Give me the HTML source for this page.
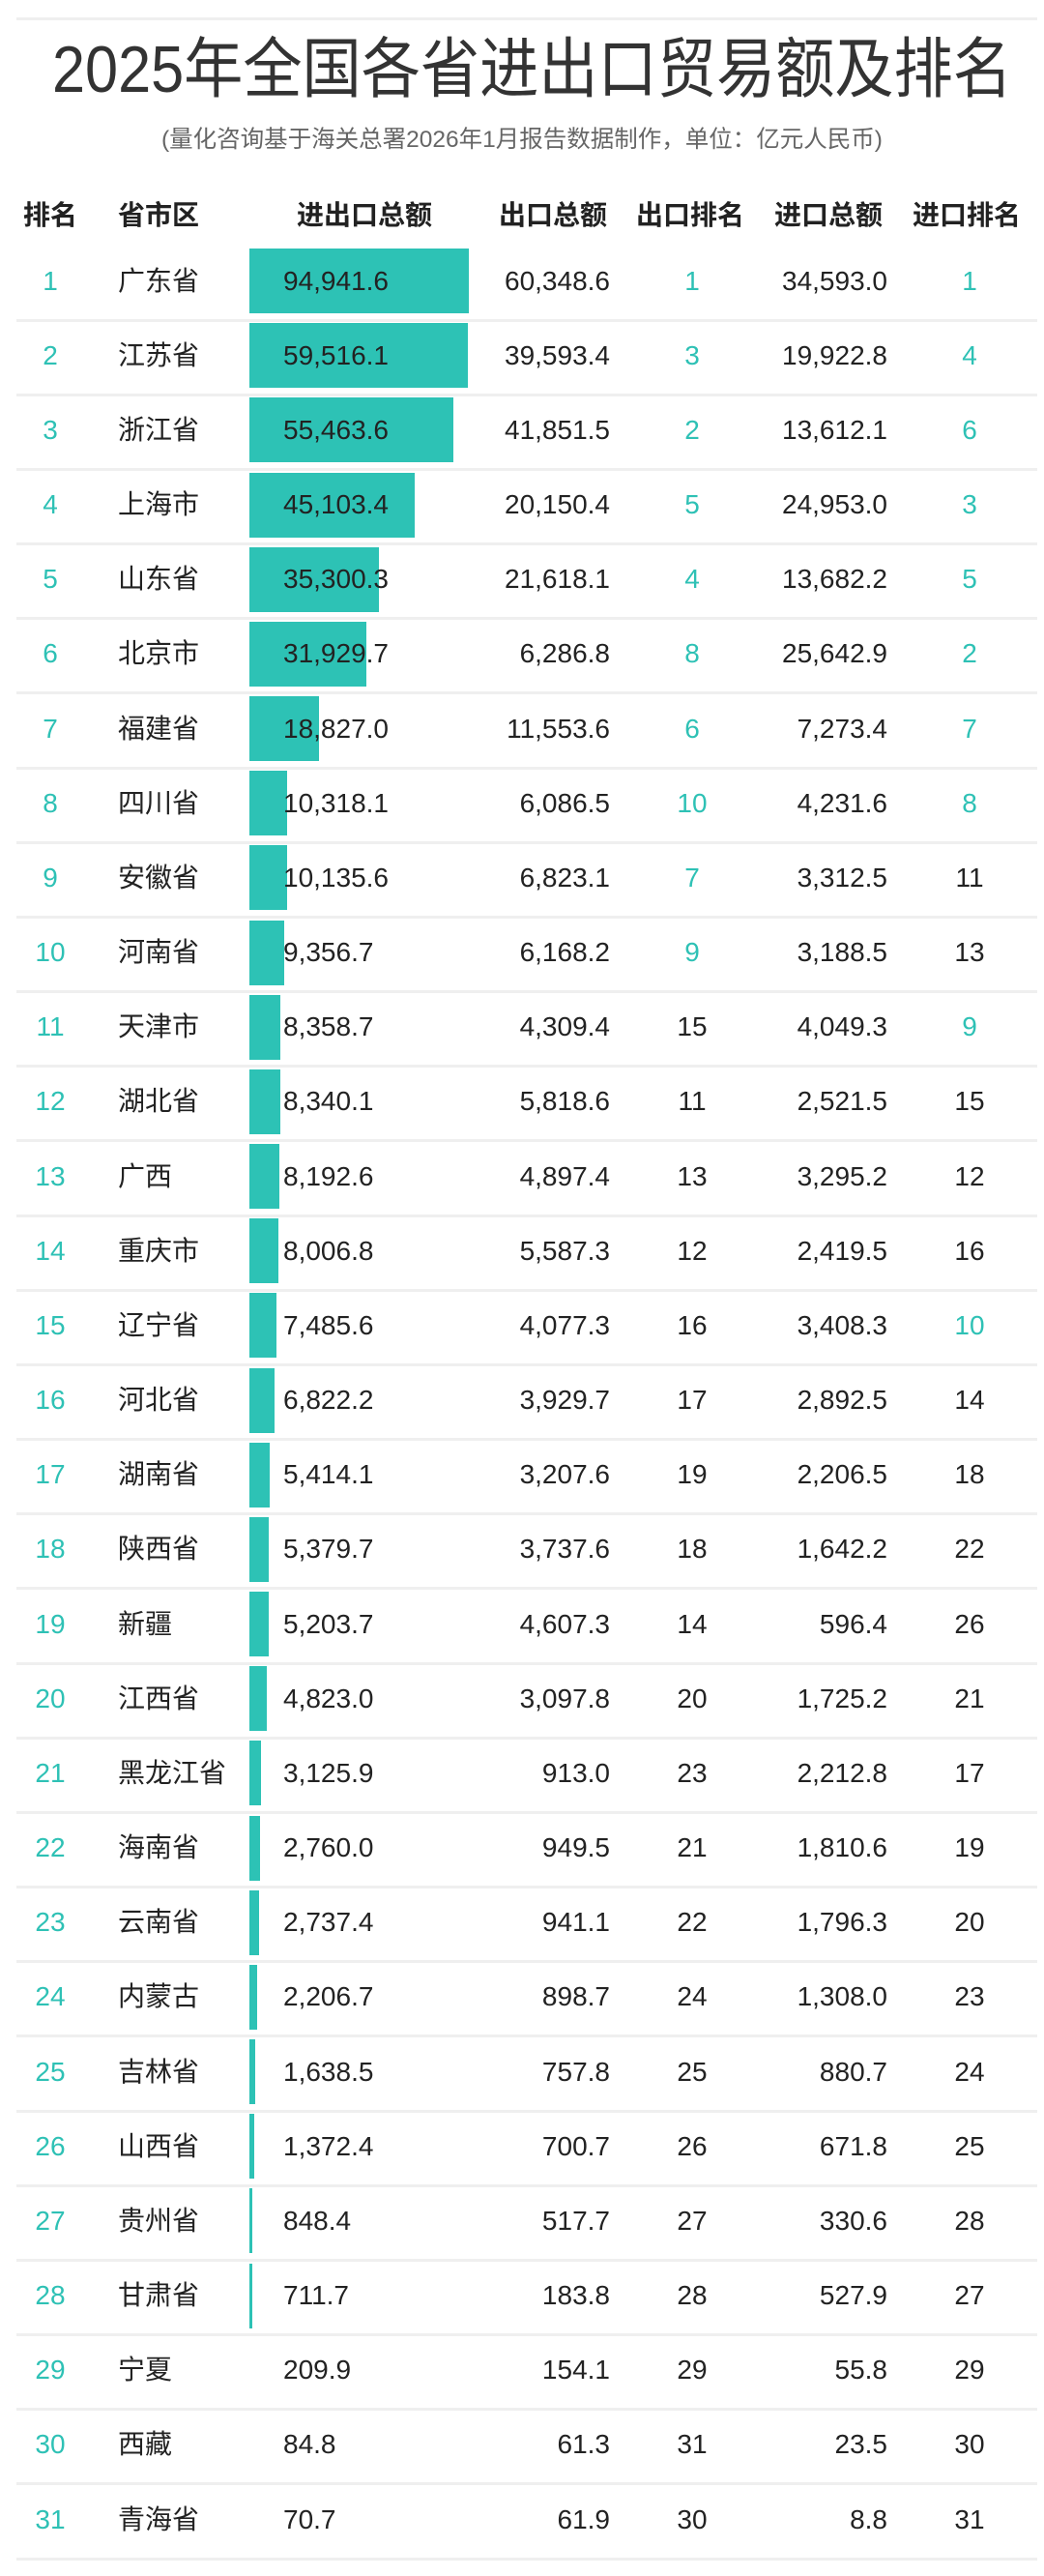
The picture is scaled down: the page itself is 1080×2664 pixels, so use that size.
<!DOCTYPE html>
<html><head><meta charset="utf-8"><style>
*{margin:0;padding:0;box-sizing:border-box}
body{width:1080px;height:2664px;background:#fff;position:relative;overflow:hidden;font-family:"Liberation Sans","Noto Sans CJK SC",sans-serif;color:#222}
.t{position:absolute;left:0;width:1080px;text-align:center;top:32px;font-size:68px;line-height:80px;color:#333;white-space:nowrap;transform:scaleX(0.9);transform-origin:540px 0}
.s{position:absolute;left:0;width:1080px;text-align:center;top:130px;font-size:24.5px;line-height:30px;color:#666;white-space:nowrap}
.hl{position:absolute;left:17px;width:1056px;height:3px;background:#efefef}
.h{position:absolute;top:203px;height:40px;line-height:40px;font-size:28px;font-weight:bold;color:#222;white-space:nowrap}
.r{position:absolute;left:0;width:1080px;height:77px;font-size:28px;line-height:77px}
.r div{position:absolute;top:0;white-space:nowrap}
.r .sep{top:78px;left:17px;width:1056px;height:3px;background:#efefef}
.rk{left:12px;width:80px;text-align:center;color:#2ec1b5}
.pv{left:122px}
.b{top:5.5px!important;height:67px;left:258px;background:#2dc2b5}
.tot{left:293px}
.ex{left:500px;width:131px;text-align:right}
.er{left:676px;width:80px;text-align:center}
.im{left:780px;width:138px;text-align:right}
.ir{left:963px;width:80px;text-align:center}
.g{color:#2ec1b5}
</style></head><body>
<div class="hl" style="top:18px"></div>
<div class="t">2025年全国各省进出口贸易额及排名</div>
<div class="s">(量化咨询基于海关总署2026年1月报告数据制作，单位：亿元人民币)</div>
<div class="h" style="left:24px">排名</div>
<div class="h" style="left:122px">省市区</div>
<div class="h" style="left:307px">进出口总额</div>
<div class="h" style="left:516px">出口总额</div>
<div class="h" style="left:658px">出口排名</div>
<div class="h" style="left:801px">进口总额</div>
<div class="h" style="left:944px">进口排名</div>

<div class="r" style="top:251.5px"><div class="b" style="width:227px"></div><div class="rk">1</div><div class="pv">广东省</div><div class="tot">94,941.6</div><div class="ex">60,348.6</div><div class="er g">1</div><div class="im">34,593.0</div><div class="ir g">1</div><div class="sep"></div></div>
<div class="r" style="top:328.7px"><div class="b" style="width:226px"></div><div class="rk">2</div><div class="pv">江苏省</div><div class="tot">59,516.1</div><div class="ex">39,593.4</div><div class="er g">3</div><div class="im">19,922.8</div><div class="ir g">4</div><div class="sep"></div></div>
<div class="r" style="top:405.8px"><div class="b" style="width:211px"></div><div class="rk">3</div><div class="pv">浙江省</div><div class="tot">55,463.6</div><div class="ex">41,851.5</div><div class="er g">2</div><div class="im">13,612.1</div><div class="ir g">6</div><div class="sep"></div></div>
<div class="r" style="top:483px"><div class="b" style="width:171px"></div><div class="rk">4</div><div class="pv">上海市</div><div class="tot">45,103.4</div><div class="ex">20,150.4</div><div class="er g">5</div><div class="im">24,953.0</div><div class="ir g">3</div><div class="sep"></div></div>
<div class="r" style="top:560.2px"><div class="b" style="width:134px"></div><div class="rk">5</div><div class="pv">山东省</div><div class="tot">35,300.3</div><div class="ex">21,618.1</div><div class="er g">4</div><div class="im">13,682.2</div><div class="ir g">5</div><div class="sep"></div></div>
<div class="r" style="top:637.4px"><div class="b" style="width:121px"></div><div class="rk">6</div><div class="pv">北京市</div><div class="tot">31,929.7</div><div class="ex">6,286.8</div><div class="er g">8</div><div class="im">25,642.9</div><div class="ir g">2</div><div class="sep"></div></div>
<div class="r" style="top:714.5px"><div class="b" style="width:71.5px"></div><div class="rk">7</div><div class="pv">福建省</div><div class="tot">18,827.0</div><div class="ex">11,553.6</div><div class="er g">6</div><div class="im">7,273.4</div><div class="ir g">7</div><div class="sep"></div></div>
<div class="r" style="top:791.7px"><div class="b" style="width:39.2px"></div><div class="rk">8</div><div class="pv">四川省</div><div class="tot">10,318.1</div><div class="ex">6,086.5</div><div class="er g">10</div><div class="im">4,231.6</div><div class="ir g">8</div><div class="sep"></div></div>
<div class="r" style="top:868.9px"><div class="b" style="width:38.5px"></div><div class="rk">9</div><div class="pv">安徽省</div><div class="tot">10,135.6</div><div class="ex">6,823.1</div><div class="er g">7</div><div class="im">3,312.5</div><div class="ir">11</div><div class="sep"></div></div>
<div class="r" style="top:946px"><div class="b" style="width:35.6px"></div><div class="rk">10</div><div class="pv">河南省</div><div class="tot">9,356.7</div><div class="ex">6,168.2</div><div class="er g">9</div><div class="im">3,188.5</div><div class="ir">13</div><div class="sep"></div></div>
<div class="r" style="top:1023.2px"><div class="b" style="width:31.8px"></div><div class="rk">11</div><div class="pv">天津市</div><div class="tot">8,358.7</div><div class="ex">4,309.4</div><div class="er">15</div><div class="im">4,049.3</div><div class="ir g">9</div><div class="sep"></div></div>
<div class="r" style="top:1100.4px"><div class="b" style="width:31.7px"></div><div class="rk">12</div><div class="pv">湖北省</div><div class="tot">8,340.1</div><div class="ex">5,818.6</div><div class="er">11</div><div class="im">2,521.5</div><div class="ir">15</div><div class="sep"></div></div>
<div class="r" style="top:1177.5px"><div class="b" style="width:31.1px"></div><div class="rk">13</div><div class="pv">广西</div><div class="tot">8,192.6</div><div class="ex">4,897.4</div><div class="er">13</div><div class="im">3,295.2</div><div class="ir">12</div><div class="sep"></div></div>
<div class="r" style="top:1254.7px"><div class="b" style="width:30.4px"></div><div class="rk">14</div><div class="pv">重庆市</div><div class="tot">8,006.8</div><div class="ex">5,587.3</div><div class="er">12</div><div class="im">2,419.5</div><div class="ir">16</div><div class="sep"></div></div>
<div class="r" style="top:1331.9px"><div class="b" style="width:28.4px"></div><div class="rk">15</div><div class="pv">辽宁省</div><div class="tot">7,485.6</div><div class="ex">4,077.3</div><div class="er">16</div><div class="im">3,408.3</div><div class="ir g">10</div><div class="sep"></div></div>
<div class="r" style="top:1409.1px"><div class="b" style="width:25.9px"></div><div class="rk">16</div><div class="pv">河北省</div><div class="tot">6,822.2</div><div class="ex">3,929.7</div><div class="er">17</div><div class="im">2,892.5</div><div class="ir">14</div><div class="sep"></div></div>
<div class="r" style="top:1486.2px"><div class="b" style="width:20.6px"></div><div class="rk">17</div><div class="pv">湖南省</div><div class="tot">5,414.1</div><div class="ex">3,207.6</div><div class="er">19</div><div class="im">2,206.5</div><div class="ir">18</div><div class="sep"></div></div>
<div class="r" style="top:1563.4px"><div class="b" style="width:20.4px"></div><div class="rk">18</div><div class="pv">陕西省</div><div class="tot">5,379.7</div><div class="ex">3,737.6</div><div class="er">18</div><div class="im">1,642.2</div><div class="ir">22</div><div class="sep"></div></div>
<div class="r" style="top:1640.6px"><div class="b" style="width:19.8px"></div><div class="rk">19</div><div class="pv">新疆</div><div class="tot">5,203.7</div><div class="ex">4,607.3</div><div class="er">14</div><div class="im">596.4</div><div class="ir">26</div><div class="sep"></div></div>
<div class="r" style="top:1717.7px"><div class="b" style="width:18.3px"></div><div class="rk">20</div><div class="pv">江西省</div><div class="tot">4,823.0</div><div class="ex">3,097.8</div><div class="er">20</div><div class="im">1,725.2</div><div class="ir">21</div><div class="sep"></div></div>
<div class="r" style="top:1794.9px"><div class="b" style="width:11.9px"></div><div class="rk">21</div><div class="pv">黑龙江省</div><div class="tot">3,125.9</div><div class="ex">913.0</div><div class="er">23</div><div class="im">2,212.8</div><div class="ir">17</div><div class="sep"></div></div>
<div class="r" style="top:1872.1px"><div class="b" style="width:10.5px"></div><div class="rk">22</div><div class="pv">海南省</div><div class="tot">2,760.0</div><div class="ex">949.5</div><div class="er">21</div><div class="im">1,810.6</div><div class="ir">19</div><div class="sep"></div></div>
<div class="r" style="top:1949.2px"><div class="b" style="width:10.4px"></div><div class="rk">23</div><div class="pv">云南省</div><div class="tot">2,737.4</div><div class="ex">941.1</div><div class="er">22</div><div class="im">1,796.3</div><div class="ir">20</div><div class="sep"></div></div>
<div class="r" style="top:2026.4px"><div class="b" style="width:8.4px"></div><div class="rk">24</div><div class="pv">内蒙古</div><div class="tot">2,206.7</div><div class="ex">898.7</div><div class="er">24</div><div class="im">1,308.0</div><div class="ir">23</div><div class="sep"></div></div>
<div class="r" style="top:2103.6px"><div class="b" style="width:6.2px"></div><div class="rk">25</div><div class="pv">吉林省</div><div class="tot">1,638.5</div><div class="ex">757.8</div><div class="er">25</div><div class="im">880.7</div><div class="ir">24</div><div class="sep"></div></div>
<div class="r" style="top:2180.7px"><div class="b" style="width:5.2px"></div><div class="rk">26</div><div class="pv">山西省</div><div class="tot">1,372.4</div><div class="ex">700.7</div><div class="er">26</div><div class="im">671.8</div><div class="ir">25</div><div class="sep"></div></div>
<div class="r" style="top:2257.9px"><div class="b" style="width:3.2px"></div><div class="rk">27</div><div class="pv">贵州省</div><div class="tot">848.4</div><div class="ex">517.7</div><div class="er">27</div><div class="im">330.6</div><div class="ir">28</div><div class="sep"></div></div>
<div class="r" style="top:2335.1px"><div class="b" style="width:2.7px"></div><div class="rk">28</div><div class="pv">甘肃省</div><div class="tot">711.7</div><div class="ex">183.8</div><div class="er">28</div><div class="im">527.9</div><div class="ir">27</div><div class="sep"></div></div>
<div class="r" style="top:2412.2px"><div class="rk">29</div><div class="pv">宁夏</div><div class="tot">209.9</div><div class="ex">154.1</div><div class="er">29</div><div class="im">55.8</div><div class="ir">29</div><div class="sep"></div></div>
<div class="r" style="top:2489.4px"><div class="rk">30</div><div class="pv">西藏</div><div class="tot">84.8</div><div class="ex">61.3</div><div class="er">31</div><div class="im">23.5</div><div class="ir">30</div><div class="sep"></div></div>
<div class="r" style="top:2566.6px"><div class="rk">31</div><div class="pv">青海省</div><div class="tot">70.7</div><div class="ex">61.9</div><div class="er">30</div><div class="im">8.8</div><div class="ir">31</div><div class="sep"></div></div>
</body></html>
